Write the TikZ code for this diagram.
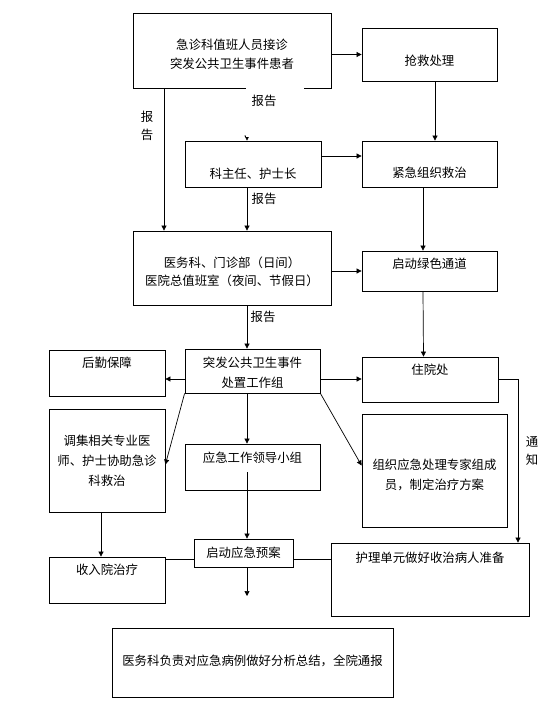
\documentclass[tikz,border=0pt]{standalone}
\usepackage{fontspec}
\setmainfont{Noto Sans CJK SC}
\usetikzlibrary{arrows.meta}

\begin{document}
\begin{tikzpicture}[x=1pt, y=-1pt, >={Triangle[length=5pt, width=5pt]},
    font=\fontsize{12.4}{19.5}\selectfont,
    box/.style={draw, line width=0.8pt, inner sep=0pt},
    link/.style={line width=0.7pt}]
    \useasboundingbox (0, 0) rectangle (559, 723);

    \node[box, minimum width=198pt, minimum height=75pt, label={[align=center, yshift=-4pt]center:{急诊科值班人员接诊\\突发公共卫生事件患者}}] at (232, 50.5) (recv) {};
    \node[box, minimum width=135pt, minimum height=53pt, label={[yshift=-6.5pt]center:{抢救处理}}] at (429.5, 54.5) (rescue) {};
    \node[box, minimum width=136pt, minimum height=46pt, label={[yshift=-10pt]center:{科主任、护士长}}] at (253, 164) (chief) {};
    \node[box, minimum width=135pt, minimum height=46pt, label={[yshift=-9pt]center:{紧急组织救治}}] at (429.5, 164) (urgent) {};
    \node[box, minimum width=198pt, minimum height=74pt, label={[align=center, yshift=-4pt, font=\fontsize{12.4}{18}\selectfont]center:{医务科、门诊部（日间）\\医院总值班室（夜间、节假日）}}] at (232, 268) (office) {};
    \node[box, minimum width=135pt, minimum height=40pt, label={[yshift=7pt]center:{启动绿色通道}}] at (429.5, 271) (green) {};
    \node[box, minimum width=135pt, minimum height=44pt, label={[align=center, yshift=-1.5pt]center:{突发公共卫生事件\\处置工作组}}] at (252.5, 371) (group) {};
    \node[box, minimum width=116pt, minimum height=46pt, label={[yshift=10pt]center:{后勤保障}}] at (107, 373) (logis) {};
    \node[box, minimum width=136pt, minimum height=45pt, label={[yshift=9.5pt]center:{住院处}}] at (430, 379.5) (inpat) {};
    \node[box, minimum width=116pt, minimum height=103pt, label={[align=center, font=\fontsize{12.4}{20}\selectfont]center:{调集相关专业医\\师、护士协助急诊\\科救治}}] at (107, 460.5) (staff) {};
    \node[box, minimum width=135pt, minimum height=46pt, label={[yshift=9pt]center:{应急工作领导小组}}] at (252.5, 467) (lead) {};
    \node[box, minimum width=145pt, minimum height=113pt, label={[align=center, yshift=-4.5pt, font=\fontsize{12.4}{20}\selectfont]center:{组织应急处理专家组成\\员，制定治疗方案}}] at (434.5, 470.5) (expert) {};
    \node[box, minimum width=99pt, minimum height=28pt, label={center:{启动应急预案}}] at (243.5, 553) (plan) {};
    \node[box, minimum width=116pt, minimum height=46pt, label={[yshift=10pt]center:{收入院治疗}}] at (107, 580) (admit) {};
    \node[box, minimum width=198pt, minimum height=73pt, label={[yshift=21.5pt]center:{护理单元做好收治病人准备}}] at (430, 579.5) (nursing) {};
    \node[box, minimum width=281pt, minimum height=69pt, label={[yshift=1.5pt]center:{医务科负责对应急病例做好分析总结，全院通报}}] at (252.5, 662.5) (summary) {};

    \coordinate (mid) at (247, 0);
    \coordinate (west) at (164, 0);
    \coordinate (east) at (518, 0);
    \coordinate (row) at (0, 379);
    \coordinate (orow) at (0, 559);
    \coordinate (mlow) at (247, 472);
    \coordinate (oend) at (247, 596);

    \draw[link, ->] (recv.east |- rescue.west) -- (rescue.west);
    \draw[link, ->] ([xshift=5.5pt]rescue.south) -- ([xshift=5.5pt]urgent.north);
    \draw[link, ->] (recv.south -| mid) -- (chief.north -| mid);
    \draw[link, ->] (recv.south -| west) -- (office.north -| west);
    \draw[link, ->] ([yshift=8pt]chief.east) -- ([yshift=8pt]urgent.west);
    \draw[link, ->] (chief.south -| mid) -- (office.north -| mid);
    \draw[link, ->] ([xshift=-6.5pt]urgent.south) -- ([xshift=-6.5pt]green.north);
    \draw[link, ->] (office.east |- green.west) -- (green.west);
    \draw[link, ->] ([xshift=-6.5pt]green.south) -- ([xshift=-6.5pt]inpat.north);
    \draw[link, ->] (office.south -| mid) -- (group.north -| mid);
    \draw[link, ->] (group.west |- row) -- (logis.east |- row);
    \draw[link, ->] (group.east |- row) -- (inpat.west |- row);
    \draw[link, ->] (inpat.east |- row) -| (nursing.north -| east);
    \draw[link, ->] (group.south west) -- ([yshift=-4pt]staff.east);
    \draw[link, ->] (group.south east) -- ([yshift=5pt]expert.west);
    \draw[link, ->] (group.south -| mid) -- (lead.north -| mid);
    \draw[link, ->] (mlow) -- (plan.north -| mid);
    \draw[link, ->] ([xshift=-6pt]staff.south) -- ([xshift=-6pt]admit.north);
    \draw[link] (plan.west |- orow) -- (admit.east |- orow);
    \draw[link] (plan.east |- orow) -- (nursing.west |- orow);
    \draw[link, ->] (plan.south -| mid) -- (oend);

    \node[fill=white, minimum width=58pt, minimum height=50pt, label={[xshift=-11pt, yshift=11pt]center:{报告}}] at (275, 112) (rpt1) {};
    \node[align=center, font=\fontsize{12.4}{18}\selectfont] at (147, 126) (rpt2) {报\\告};
    \node[] at (264, 199) (rpt3) {报告};
    \node[] at (263, 317) (rpt4) {报告};
    \node[align=center, font=\fontsize{12.4}{18}\selectfont] at (532, 451) (ntf) {通\\知};
\end{tikzpicture}
\end{document}
